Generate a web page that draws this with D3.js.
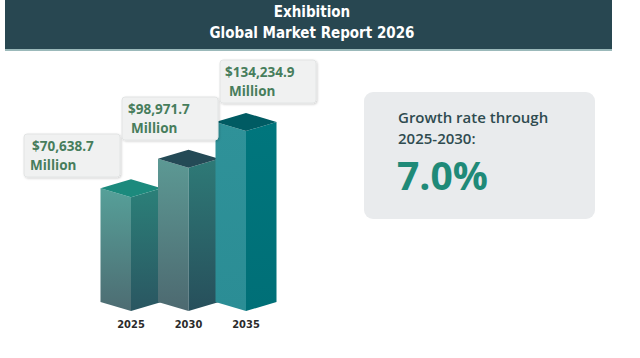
<!DOCTYPE html>
<html>
<head>
<meta charset="utf-8">
<script src="https://cdn.jsdelivr.net/npm/d3@7"></script>
<style>
  body { margin: 0; background: #fff; }
  svg { display: block; }
</style>
</head>
<body>
<svg id="chart"></svg>
<script>
// Chart data
const years = ["2025", "2030", "2035"];
const marketValues = [70638.7, 98971.7, 134234.9];
const valueLabels = ["$70,638.7", "$98,971.7", "$134,234.9"];
const unitLabel = "Million";
const titleLines = ["Exhibition", "Global Market Report 2026"];
const growthLines = ["Growth rate through", "2025-2030:"];
const growthValue = "7.0%";

const width = 640;
const height = 358;

const svg = d3.select("#chart")
    .attr("width", width)
    .attr("height", height);

const defs = svg.append("defs");

// face colours per bar: [left top, left bottom], [right top, right bottom], top
const faceColors = [
    { left: ["#56a099", "#4d6c72"], right: ["#2b8079", "#2a5661"], top: "#1c8a7d" },
    { left: ["#5c9994", "#4d6970"], right: ["#2e7a77", "#274f5b"], top: "#244a56" },
    { left: ["#2f9299", "#2b8d95"], right: ["#00767d", "#006f77"], top: "#005b63" }
];

faceColors.forEach((c, i) => {
    ["left", "right"].forEach(side => {
        const g = defs.append("linearGradient")
            .attr("id", `grad-${side}-${i}`)
            .attr("x1", 0).attr("y1", 0).attr("x2", 0).attr("y2", 1);
        g.append("stop").attr("offset", "0%").attr("stop-color", c[side][0]);
        g.append("stop").attr("offset", "100%").attr("stop-color", c[side][1]);
    });
});

const shadow = defs.append("filter").attr("id", "boxShadow")
    .attr("x", "-10%").attr("y", "-10%").attr("width", "130%").attr("height", "140%");
shadow.append("feDropShadow")
    .attr("dx", 1).attr("dy", 1).attr("stdDeviation", 1.2)
    .attr("flood-color", "#000").attr("flood-opacity", 0.18);

// Header band
svg.append("rect")
    .attr("x", 5).attr("y", 0)
    .attr("width", 607).attr("height", 50)
    .attr("fill", "#284751");
svg.append("rect")
    .attr("x", 5).attr("y", 49)
    .attr("width", 607).attr("height", 2)
    .attr("fill", "#9bb9ba");

svg.selectAll(".title")
    .data(titleLines)
    .enter()
    .append("text")
    .attr("class", "title")
    .attr("x", 312)
    .attr("y", (d, i) => 17 + i * 21)
    .attr("text-anchor", "middle")
    .attr("fill", "#fff")
    .attr("font-family", "'Liberation Sans Narrow', 'DejaVu Sans Condensed', sans-serif")
    .attr("font-weight", "bold")
    .attr("font-size", "15px")
    .text(d => d);

// Scales
const xScale = d3.scaleBand()
    .domain(years)
    .range([102.25, 274.75])
    .padding(0);

const hScale = d3.scaleLinear()
    .domain([0, d3.max(marketValues)])
    .range([40, 180]);

// callout boxes step up and to the right, one per year
const calloutX = d3.scalePoint().domain(years).range([24, 220]);
const calloutY = d3.scalePoint().domain(years).range([134, 60]);

const baseY = 311;   // front bottom corner
const halfW = 30.5;  // half width of the box across
const dia = 9;       // half height of the top diamond

const bars = svg.selectAll(".bar")
    .data(marketValues)
    .enter()
    .append("g")
    .attr("class", "bar");

// left face
bars.append("path")
    .attr("d", (d, i) => {
        const cx = xScale(years[i]) + xScale.bandwidth() / 2;
        const top = baseY - hScale(d);
        return `M${cx - halfW},${top - dia} L${cx},${top} L${cx},${baseY} L${cx - halfW},${baseY - dia} Z`;
    })
    .attr("fill", (d, i) => `url(#grad-left-${i})`);

// right face
bars.append("path")
    .attr("d", (d, i) => {
        const cx = xScale(years[i]) + xScale.bandwidth() / 2;
        const top = baseY - hScale(d);
        return `M${cx},${top} L${cx + halfW},${top - dia} L${cx + halfW},${baseY - dia} L${cx},${baseY} Z`;
    })
    .attr("fill", (d, i) => `url(#grad-right-${i})`);

// top face
bars.append("path")
    .attr("d", (d, i) => {
        const cx = xScale(years[i]) + xScale.bandwidth() / 2;
        const top = baseY - hScale(d);
        return `M${cx - halfW},${top - dia} L${cx},${top - 2 * dia} L${cx + halfW},${top - dia} L${cx},${top} Z`;
    })
    .attr("fill", (d, i) => faceColors[i].top);

// Year labels
svg.selectAll(".year")
    .data(years)
    .enter()
    .append("text")
    .attr("class", "year")
    .attr("x", d => xScale(d) + xScale.bandwidth() / 2)
    .attr("y", 328)
    .attr("text-anchor", "middle")
    .attr("fill", "#2b2b2b")
    .attr("font-family", "'Liberation Sans Narrow', 'DejaVu Sans Condensed', sans-serif")
    .attr("font-weight", "bold")
    .attr("font-size", "11px")
    .text(d => d);

// Value callouts
const labels = svg.selectAll(".callout")
    .data(years)
    .enter()
    .append("g")
    .attr("class", "callout")
    .attr("transform", d => `translate(${calloutX(d)}, ${calloutY(d)})`);

labels.append("rect")
    .attr("width", 96)
    .attr("height", 43)
    .attr("rx", 3)
    .attr("fill", "#f0f1f1")
    .attr("stroke", "#e2e4e4")
    .attr("filter", "url(#boxShadow)");

labels.append("text")
    .attr("x", (d, i) => [8, 6, 5][i])
    .attr("y", 17)
    .attr("fill", "#477d5c")
    .attr("font-family", "'Open Sans', sans-serif")
    .attr("font-weight", "bold")
    .attr("font-size", "13.5px")
    .text((d, i) => valueLabels[i]);

labels.append("text")
    .attr("x", (d, i) => [6, 9, 9][i])
    .attr("y", 35.5)
    .attr("fill", "#477d5c")
    .attr("font-family", "'Open Sans', sans-serif")
    .attr("font-weight", "bold")
    .attr("font-size", "13.5px")
    .text(unitLabel);

// Growth rate box
const growth = svg.append("g").attr("transform", "translate(364, 92)");

growth.append("rect")
    .attr("width", 231)
    .attr("height", 127)
    .attr("rx", 9)
    .attr("fill", "#e9ebed");

growth.selectAll(".growth-line")
    .data(growthLines)
    .enter()
    .append("text")
    .attr("class", "growth-line")
    .attr("x", 34)
    .attr("y", (d, i) => 31 + i * 20.5)
    .attr("fill", "#2f4b50")
    .attr("font-family", "'Open Sans', sans-serif")
    .attr("font-weight", 600)
    .attr("font-size", "15px")
    .text(d => d);

growth.append("text")
    .attr("x", 33)
    .attr("y", 98)
    .attr("fill", "#1f8a78")
    .attr("font-family", "'Open Sans', sans-serif")
    .attr("font-weight", "bold")
    .attr("font-size", "39px")
    .text(growthValue);
</script>
</body>
</html>
